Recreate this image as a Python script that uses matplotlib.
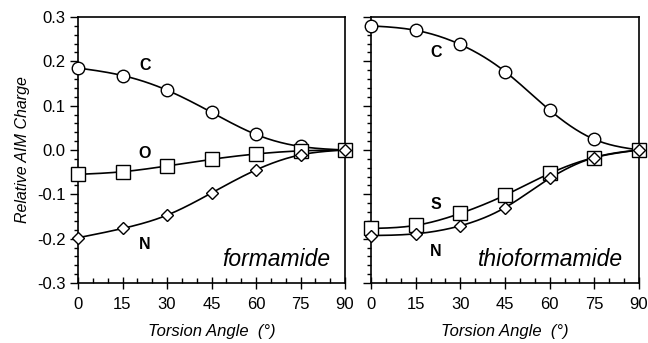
import numpy as np
import matplotlib
matplotlib.use("Agg")
import matplotlib.pyplot as plt
from matplotlib.ticker import MultipleLocator, FormatStrFormatter

angles = [0, 15, 30, 45, 60, 75, 90]
form_C = [0.185, 0.168, 0.135, 0.085, 0.035, 0.008, 0.0]
form_O = [-0.055, -0.049, -0.036, -0.021, -0.009, -0.002, 0.0]
form_N = [-0.198, -0.177, -0.147, -0.097, -0.045, -0.011, 0.0]
thio_C = [0.280, 0.270, 0.238, 0.177, 0.090, 0.024, 0.0]
thio_S = [-0.177, -0.170, -0.143, -0.102, -0.053, -0.017, 0.0]
thio_N = [-0.193, -0.189, -0.171, -0.130, -0.064, -0.017, 0.0]

plt.rcParams['font.family'] = ['Liberation Sans', 'DejaVu Sans']


def spline(x, y, n=200):
    x = np.asarray(x, float); y = np.asarray(y, float)
    k = len(x); h = np.diff(x)
    A = np.zeros((k, k)); b = np.zeros(k)
    A[0, 0] = 1; A[-1, -1] = 1
    for i in range(1, k - 1):
        A[i, i - 1] = h[i - 1]; A[i, i] = 2 * (h[i - 1] + h[i]); A[i, i + 1] = h[i]
        b[i] = 3 * ((y[i + 1] - y[i]) / h[i] - (y[i] - y[i - 1]) / h[i - 1])
    c = np.linalg.solve(A, b)
    xs = np.linspace(x[0], x[-1], n); ys = np.empty_like(xs)
    for j, xv in enumerate(xs):
        i = min(np.searchsorted(x, xv, side='right') - 1, k - 2)
        d = xv - x[i]
        bb = (y[i + 1] - y[i]) / h[i] - h[i] * (2 * c[i] + c[i + 1]) / 3
        dd = (c[i + 1] - c[i]) / (3 * h[i])
        ys[j] = y[i] + bb * d + c[i] * d ** 2 + dd * d ** 3
    return xs, ys


fig = plt.figure(figsize=(6.48, 3.43), dpi=100)
H = 343.0; W = 648.0
ax1 = fig.add_axes([78 / W, 1 - 283 / H, 267 / W, 266 / H])
ax2 = fig.add_axes([371 / W, 1 - 283 / H, 268 / W, 266 / H])

series = [
    (ax1, [(form_C, 'o', 9), (form_O, 's', 9.5), (form_N, 'D', 6.5)]),
    (ax2, [(thio_C, 'o', 9), (thio_S, 's', 9.5), (thio_N, 'D', 6.5)]),
]
for ax, ss in series:
    for vals, m, ms in ss:
        xs, ys = spline(angles, vals)
        ax.plot(xs, ys, color='black', lw=1.2, zorder=2)
        ax.plot(angles, vals, linestyle='none', marker=m, ms=ms, mfc='white',
                mec='black', mew=1.0, zorder=3, clip_on=False)
    ax.set_xlim(0, 90)
    ax.set_ylim(-0.3, 0.3)
    ax.xaxis.set_major_locator(MultipleLocator(15))
    ax.xaxis.set_minor_locator(MultipleLocator(5))
    ax.yaxis.set_major_locator(MultipleLocator(0.1))
    ax.yaxis.set_minor_locator(MultipleLocator(0.02))
    ax.tick_params(axis='x', which='major', direction='inout', length=8, width=1, labelsize=12, pad=6)
    ax.tick_params(axis='x', which='minor', direction='in', length=3.5, width=1)
    ax.tick_params(axis='y', which='major', direction='out', length=6, width=1, labelsize=12, pad=3)
    ax.tick_params(axis='y', which='minor', direction='out', length=3, width=1)
    for sp in ax.spines.values():
        sp.set_linewidth(1.2)
    ax.set_xlabel('Torsion Angle  (°)', fontsize=12, style='italic', labelpad=9)

ax1.yaxis.set_major_formatter(FormatStrFormatter('%.1f'))
ax1.set_ylabel('Relative AIM Charge', fontsize=11.5, style='italic', labelpad=5)
ax2.tick_params(axis='y', which='both', labelleft=False)

lab = dict(fontsize=11.5, fontweight='bold', ha='center', va='center')
ax1.text(22.6, 0.190, 'C', **lab)
ax1.text(22.6, -0.009, 'O', **lab)
ax1.text(22.6, -0.214, 'N', **lab)
ax2.text(21.8, 0.221, 'C', **lab)
ax2.text(21.8, -0.122, 'S', **lab)
ax2.text(21.8, -0.228, 'N', **lab)
ax1.text(85, -0.248, 'formamide', fontsize=16.5, style='italic', ha='right', va='center')
ax2.text(84.8, -0.246, 'thioformamide', fontsize=16.5, style='italic', ha='right', va='center')

fig.savefig('out.png', dpi=100)
